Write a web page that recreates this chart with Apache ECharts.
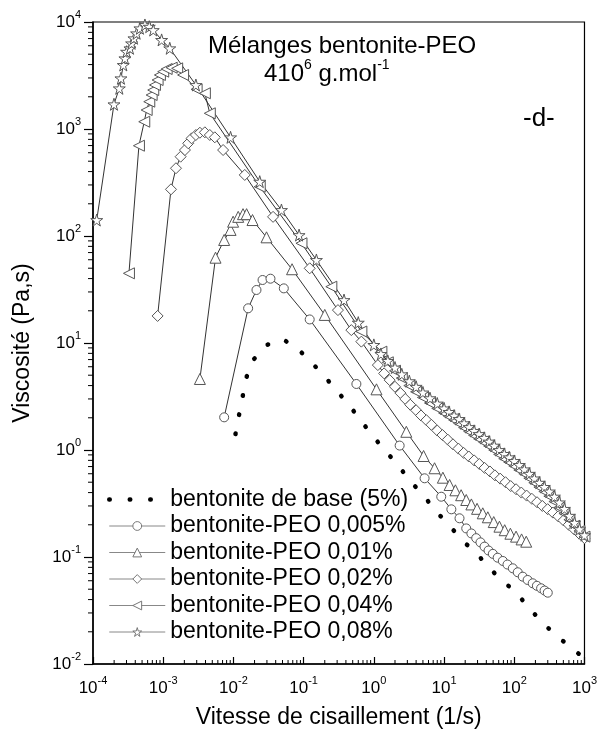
<!DOCTYPE html>
<html><head><meta charset="utf-8">
<script src="https://cdn.jsdelivr.net/npm/echarts@6/dist/echarts.min.js"></script>
<style>html,body{margin:0;padding:0;background:#fff}#c{width:600px;height:735px}</style>
</head><body><div id="c"></div>
<script>
const FONT = '"Liberation Sans", Arial, sans-serif';
const seriesNames = ['bentonite de base (5%)','bentonite-PEO 0,005%','bentonite-PEO 0,01%','bentonite-PEO 0,02%','bentonite-PEO 0,04%','bentonite-PEO 0,08%'];

const rateBase = [0.0107,0.0120,0.0135,0.0152,0.0191,0.0305,0.0526,0.088,0.171,0.286,0.468,0.747,1.21,2.09,3.48,5.28,7.82,10.9,14.9,20.7,26.9,37.7,55.3,80.9,112,156,228,394,547,718,1000];
const viscBase = [1.41,2.11,3.13,4.71,6.94,9.64,10.7,8.47,5.44,3.69,2.51,1.68,1.13,0.751,0.494,0.366,0.262,0.211,0.166,0.132,0.114,0.0891,0.0679,0.0544,0.0448,0.0343,0.0262,0.0183,0.0156,0.0135,0.0112];

const rate005 = [0.00738,0.0162,0.0213,0.0260,0.0337,0.0522,0.122,0.564,2.33,5.28,9.12,12.7,16.6,20.7,24.5,28.7,33,37.7,43,49.5,58,68.7,80,95.3,112,132,155,183,210,241,270,300];
const visc005 = [2.02,21.1,31.3,38.8,39.9,32.4,16.6,4.14,1.10,0.544,0.366,0.279,0.230,0.185,0.166,0.150,0.137,0.125,0.115,0.107,0.0985,0.0918,0.0850,0.0784,0.0720,0.0655,0.0610,0.0568,0.0538,0.0510,0.0486,0.0464];

const rate01 = [0.00333,0.00556,0.00738,0.0091,0.0099,0.0117,0.0137,0.0154,0.0187,0.0296,0.0684,0.200,1.09,2.90,5.11,7.32,9.62,12.0,14.5,17.5,20.7,24.5,29.5,35.6,42,51,61.5,73,88,106,127,148];
const visc01 = [4.61,62.7,91.8,114,136,151,160,160,141,97.2,48.9,18.3,3.69,1.48,0.879,0.675,0.551,0.471,0.420,0.378,0.341,0.310,0.282,0.256,0.235,0.212,0.192,0.178,0.165,0.155,0.146,0.139];

const rate02 = [0.000832,0.00129,0.00152,0.00177,0.00204,0.00227,0.00254,0.00292,0.00333,0.00392,0.00461,0.00543,0.00713,0.0145,0.0367,0.122,0.308,0.478,0.664,1.14,1.4,1.68,2,2.4,2.8,3.3,4,4.7,5.6,6.6,8,9.5,11.3,13.4,16,19,22.5,26.8,31.8,37.8,45,53,63,75,89,106,126,150,178,211,251,299,355,422,501,596,708,841,1000];
const visc02 = [17.9,273,430,551,636,735,818,879,923,931,879,836,636,372,151,49.9,20.3,13.2,10.3,6.22,5.2,4.5,3.9,3.4,3.0,2.65,2.35,2.1,1.9,1.72,1.52,1.38,1.25,1.13,1.03,0.94,0.87,0.8,0.74,0.68,0.63,0.58,0.54,0.5,0.46,0.43,0.4,0.375,0.35,0.325,0.3,0.28,0.26,0.24,0.22,0.2,0.182,0.165,0.15];

const rate04 = [0.000325,0.000451,0.000537,0.000581,0.000633,0.000684,0.000721,0.000762,0.000832,0.000897,0.00100,0.00112,0.00132,0.00158,0.00192,0.00299,0.00392,0.00461,0.0237,0.0931,0.248,0.664,1.28,1.58,2,2.5,3.2,4,5,6.3,8,10,11.8,13.9,16.4,19.3,22.8,26.8,31.6,37.3,43.9,51.8,61,72,84.8,100,118,139,164,193,228,268,316,373,439,518,610,720,848,1000];
const visc04 = [44.8,698,1170,1505,1800,2078,2313,2578,2870,3198,3434,3637,3741,3690,3198,2350,2158,1402,289,85.5,33.6,12.8,8.3,6.6,5.5,4.7,4.0,3.5,3.1,2.75,2.45,2.22,2.06,1.91,1.77,1.62,1.49,1.37,1.27,1.18,1.09,1.0,0.91,0.83,0.77,0.71,0.65,0.6,0.545,0.495,0.45,0.41,0.37,0.33,0.29,0.255,0.223,0.196,0.175,0.155];

const rate08 = [0.000113,0.000199,0.000237,0.000250,0.000270,0.000285,0.000301,0.000336,0.000355,0.000383,0.000418,0.000466,0.000549,0.000633,0.000721,0.000949,0.00124,0.00292,0.0091,0.0237,0.0483,0.0861,0.152,0.376,0.6,1.0,1.26,1.58,2,2.5,3.2,4,5,6.3,8,10,11.8,13.9,16.4,19.3,22.8,26.8,31.6,37.3,43.9,51.8,61,72,84.8,100,118,139,164,193,228,268,316,373,439,518,610,720,848,1000];
const visc08 = [141,1702,2400,2977,3966,4581,5277,5675,6320,7046,7840,8730,9380,9040,8410,6800,5680,2578,836,322,175,102,59.7,25.2,15.5,9.6,7.9,6.8,5.9,5.1,4.4,3.9,3.45,3.05,2.72,2.45,2.27,2.1,1.95,1.78,1.64,1.51,1.41,1.3,1.2,1.1,1.0,0.92,0.855,0.79,0.725,0.66,0.6,0.543,0.495,0.452,0.41,0.367,0.324,0.282,0.243,0.209,0.182,0.16];

const xExponents = [-4,-3,-2,-1,0,1,2,3];
const yExponents = [-2,-1,0,1,2,3,4];
const minorMultipliers = [2,3,4,5,6,7,8,9];

const pairs = (xs, ys) => xs.map((x, i) => [x, ys[i]]);
const xMinor = [];
xExponents.slice(0, -1).forEach(e => minorMultipliers.forEach(m => xMinor.push([m * Math.pow(10, e), 0.01])));
const yMinor = [];
yExponents.slice(0, -1).forEach(e => minorMultipliers.forEach(m => yMinor.push([1e-4, m * Math.pow(10, e)])));

const STAR = 'path://M50,0 L61,35 L98,35 L68,57 L79,91 L50,70 L21,91 L32,57 L2,35 L39,35 Z';
const supLabel = v => '{b|10}{s|' + Math.round(Math.log10(v)) + '}';
const labelRich = { b: {fontSize: 17, lineHeight: 26, fontFamily: FONT, color: '#000'}, s: {fontSize: 11, lineHeight: 13, verticalAlign: 'top', fontFamily: FONT, color: '#000'} };

function markerSeries(name, data, symbol, size, rotate) {
  return {
    type: 'line', name: name, data: data, symbol: symbol, symbolSize: size, symbolRotate: rotate || 0,
    showSymbol: true, showAllSymbol: true, animation: false,
    lineStyle: {color: '#333', width: 1},
    itemStyle: {color: '#fff', borderColor: '#555', borderWidth: 1},
    emphasis: {disabled: true}
  };
}
const legendData = seriesNames.map((n, i) => i === 0
  ? {name: n, itemStyle: {opacity: 0}, lineStyle: {color: '#000', width: 4.5, type: [0.5, 20], cap: 'round'}}
  : {name: n, itemStyle: {color: '#fff', borderColor: '#777', borderWidth: 1}, lineStyle: {color: '#888', width: 1}});

const chart = echarts.init(document.getElementById('c'), null, {renderer: 'canvas'});
chart.setOption({
  animation: false,
  backgroundColor: '#fff',
  textStyle: {fontFamily: FONT},
  title: [
    {text: 'Mélanges bentonite-PEO', left: 203, top: 29, textStyle: {fontSize: 24, fontWeight: 'normal', color: '#000', fontFamily: FONT}},
    {text: '410{s|6} g.mol{s|-1}', left: 259, top: 53, textStyle: {fontSize: 24, lineHeight: 32, fontWeight: 'normal', color: '#000', fontFamily: FONT,
      rich: {s: {fontSize: 14, lineHeight: 15, verticalAlign: 'top', color: '#000', fontFamily: FONT}}}},
    {text: '-d-', left: 518, top: 101, textStyle: {fontSize: 26, fontWeight: 'normal', color: '#000', fontFamily: FONT}}
  ],
  grid: {left: 93, right: 15, top: 22, bottom: 71, show: true, borderColor: '#000', borderWidth: 1.2, containLabel: false},
  legend: {
    orient: 'vertical', left: 102, top: 483, itemWidth: 56, itemHeight: 11, itemGap: 3.5,
    data: legendData, textStyle: {fontSize: 23, lineHeight: 22, color: '#000', fontFamily: FONT}, selectedMode: false
  },
  xAxis: {
    type: 'log', logBase: 10, min: 1e-4, max: 1e3, splitNumber: 7,
    name: 'Vitesse de cisaillement (1/s)', nameLocation: 'middle', nameGap: 42,
    nameTextStyle: {fontSize: 23, color: '#000', fontFamily: FONT},
    axisLine: {lineStyle: {color: '#000', width: 1.5}},
    axisTick: {inside: true, length: 7, lineStyle: {color: '#000', width: 1.2}},
    splitLine: {show: false},
    axisLabel: {margin: 11, formatter: supLabel, rich: labelRich, showMinLabel: true, showMaxLabel: true}
  },
  yAxis: {
    type: 'log', logBase: 10, min: 1e-2, max: 1e4, splitNumber: 6,
    name: 'Viscosité (Pa,s)', nameLocation: 'middle', nameGap: 59, nameRotate: 90,
    nameTextStyle: {fontSize: 23, color: '#000', fontFamily: FONT},
    axisLine: {lineStyle: {color: '#000', width: 1.5}},
    axisTick: {inside: false, length: 9, lineStyle: {color: '#000', width: 1.2}},
    splitLine: {show: false},
    axisLabel: {margin: 12, formatter: supLabel, rich: labelRich, showMinLabel: true, showMaxLabel: true}
  },
  series: [
    {type: 'line', name: seriesNames[0], data: pairs(rateBase, viscBase), symbol: 'none', animation: false,
      lineStyle: {color: '#000', width: 4.5, type: [0.5, 19], cap: 'round'}, itemStyle: {color: '#000'}, emphasis: {disabled: true}},
    markerSeries(seriesNames[1], pairs(rate005, visc005), 'circle', 9),
    markerSeries(seriesNames[2], pairs(rate01, visc01), 'triangle', 11),
    markerSeries(seriesNames[3], pairs(rate02, visc02), 'diamond', 11),
    markerSeries(seriesNames[4], pairs(rate04, visc04), 'triangle', 11, 90),
    markerSeries(seriesNames[5], pairs(rate08, visc08), STAR, 12),
    {type: 'custom', name: 'xminor', data: xMinor, silent: true, clip: false, z: 5,
      renderItem: function (params, api) {
        const p = api.coord([api.value(0), api.value(1)]);
        return {type: 'line', shape: {x1: p[0], y1: p[1], x2: p[0], y2: p[1] - 4}, style: {stroke: '#000', lineWidth: 1}};
      }},
    {type: 'custom', name: 'yminor', data: yMinor, silent: true, clip: false, z: 5,
      renderItem: function (params, api) {
        const p = api.coord([api.value(0), api.value(1)]);
        return {type: 'line', shape: {x1: p[0] - 5, y1: p[1], x2: p[0], y2: p[1]}, style: {stroke: '#000', lineWidth: 1}};
      }}
  ]
});
</script></body></html>
